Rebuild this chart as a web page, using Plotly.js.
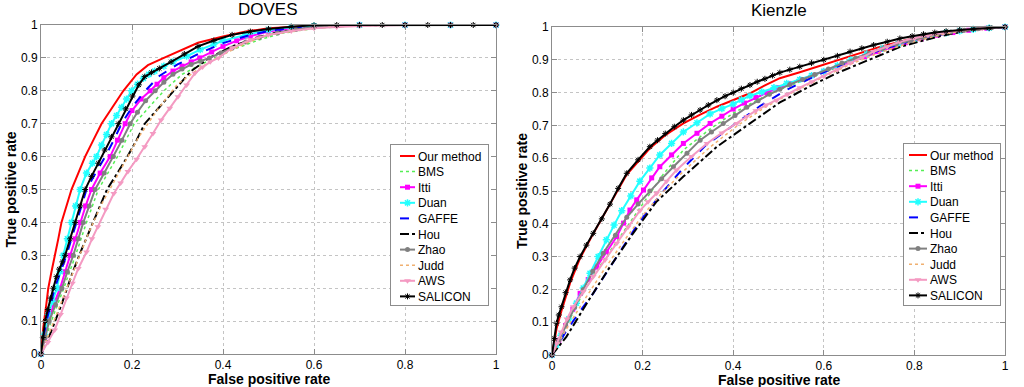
<!DOCTYPE html>
<html>
<head>
<meta charset="utf-8">
<script src="https://cdn.plot.ly/plotly-3.0.1.min.js"></script>
<style>html,body{margin:0;padding:0;background:#fff;}#chart{width:1024px;height:387px;}</style>
</head>
<body>
<div id="chart"></div>
<script>
// ---------- Data ----------
const methodNames = ["Our method","BMS","Itti","Duan","GAFFE","Hou","Zhao","Judd","AWS","SALICON"];
const panelTitles = ["DOVES","Kienzle"];
const xTitle = "False positive rate";
const yTitle = "True positive rate";

// DOVES
const dovesOurX = [0,0.005,0.012,0.016,0.023,0.031,0.038,0.045,0.056,0.067,0.082,0.097,0.115,0.133,0.157,0.181,0.21,0.235,0.27,0.31,0.345,0.4,0.45,0.5,0.6,0.7,0.8,0.9,1];
const dovesOurY = [0,0.08,0.155,0.2,0.25,0.3,0.35,0.4,0.45,0.5,0.55,0.6,0.65,0.7,0.75,0.8,0.85,0.878,0.9,0.925,0.946,0.965,0.98,0.99,0.998,1,1,1,1];
const dovesBmsX = [0,0.02,0.05,0.076,0.1,0.126,0.168,0.205,0.27,0.31,0.38,0.43,0.48,0.53,0.6,0.7,0.8,0.9,1];
const dovesBmsY = [0,0.09,0.2,0.3,0.4,0.5,0.6,0.7,0.8,0.85,0.9,0.93,0.955,0.975,0.99,0.998,1,1,1];
const dovesIttiX = [0,0.008,0.016,0.028,0.042,0.053,0.064,0.075,0.086,0.098,0.111,0.13,0.152,0.168,0.185,0.2,0.22,0.24,0.255,0.27,0.29,0.31,0.33,0.349,0.375,0.4,0.43,0.46,0.5,0.55,0.6,0.7,0.8,0.9,1];
const dovesIttiY = [0,0.05,0.1,0.15,0.2,0.25,0.3,0.35,0.4,0.45,0.5,0.55,0.6,0.65,0.7,0.74,0.775,0.8,0.82,0.84,0.86,0.875,0.888,0.9,0.918,0.935,0.952,0.966,0.98,0.99,0.996,1,1,1,1];
const dovesDuanX = [0,0.008,0.016,0.025,0.035,0.042,0.049,0.058,0.067,0.076,0.086,0.1,0.113,0.122,0.133,0.144,0.155,0.166,0.177,0.188,0.199,0.212,0.225,0.237,0.25,0.27,0.29,0.32,0.35,0.38,0.4,0.45,0.5,0.55,0.6,0.7,0.8,0.9,1];
const dovesDuanY = [0,0.06,0.12,0.16,0.2,0.25,0.3,0.35,0.4,0.45,0.5,0.55,0.58,0.6,0.635,0.667,0.7,0.725,0.75,0.775,0.8,0.82,0.838,0.85,0.86,0.875,0.888,0.905,0.925,0.942,0.952,0.97,0.985,0.993,0.997,1,1,1,1];
const dovesGaffeX = [0,0.012,0.03,0.056,0.078,0.1,0.12,0.141,0.16,0.177,0.2,0.229,0.26,0.3,0.35,0.4,0.45,0.5,0.6,0.7,0.8,0.9,1];
const dovesGaffeY = [0,0.1,0.2,0.3,0.4,0.5,0.55,0.6,0.65,0.7,0.75,0.8,0.845,0.88,0.915,0.945,0.966,0.982,0.996,1,1,1,1];
const dovesHouX = [0,0.02,0.045,0.07,0.09,0.115,0.145,0.168,0.19,0.21,0.228,0.26,0.291,0.33,0.37,0.42,0.47,0.52,0.6,0.7,0.8,0.9,1];
const dovesHouY = [0,0.06,0.15,0.25,0.32,0.4,0.5,0.55,0.6,0.65,0.7,0.75,0.8,0.86,0.9,0.935,0.96,0.978,0.992,0.999,1,1,1];
const dovesZhaoX = [0,0.009,0.018,0.032,0.046,0.058,0.071,0.082,0.093,0.106,0.119,0.139,0.159,0.178,0.196,0.212,0.23,0.251,0.27,0.29,0.31,0.33,0.35,0.37,0.395,0.42,0.45,0.48,0.52,0.56,0.6,0.7,0.8,0.9,1];
const dovesZhaoY = [0,0.05,0.1,0.15,0.2,0.25,0.3,0.35,0.4,0.45,0.5,0.55,0.6,0.65,0.7,0.735,0.77,0.8,0.826,0.85,0.866,0.88,0.89,0.9,0.915,0.93,0.948,0.962,0.976,0.986,0.993,0.999,1,1,1];
const dovesJuddX = [0,0.02,0.05,0.08,0.105,0.135,0.175,0.215,0.26,0.3,0.35,0.4,0.45,0.5,0.6,0.7,0.8,0.9,1];
const dovesJuddY = [0,0.07,0.18,0.28,0.37,0.46,0.56,0.66,0.75,0.82,0.87,0.91,0.945,0.97,0.99,1,1,1,1];
const dovesAwsX = [0,0.015,0.03,0.043,0.056,0.069,0.082,0.1,0.112,0.125,0.142,0.16,0.175,0.191,0.21,0.228,0.246,0.264,0.283,0.301,0.32,0.338,0.355,0.372,0.39,0.42,0.46,0.5,0.55,0.6,0.65,0.7,0.8,0.9,1];
const dovesAwsY = [0,0.035,0.073,0.12,0.17,0.215,0.26,0.31,0.35,0.387,0.44,0.488,0.52,0.555,0.592,0.63,0.67,0.711,0.747,0.782,0.818,0.853,0.872,0.888,0.9,0.93,0.955,0.97,0.982,0.99,0.994,0.997,1,1,1];
const dovesSaliconX = [0,0.004,0.009,0.015,0.021,0.027,0.034,0.04,0.047,0.053,0.064,0.075,0.086,0.097,0.111,0.126,0.14,0.155,0.17,0.186,0.201,0.215,0.228,0.243,0.26,0.286,0.315,0.345,0.38,0.42,0.46,0.5,0.55,0.6,0.65,0.7,0.75,0.8,0.85,0.9,0.95,1];
const dovesSaliconY = [0,0.05,0.1,0.135,0.17,0.2,0.235,0.258,0.28,0.3,0.35,0.4,0.45,0.5,0.54,0.58,0.62,0.66,0.7,0.745,0.784,0.818,0.843,0.856,0.868,0.888,0.912,0.935,0.953,0.97,0.98,0.988,0.995,0.999,1,1,1,1,1,1,1,1];

// Kienzle
const kienOurX = [0,0.01,0.021,0.04,0.062,0.091,0.128,0.165,0.216,0.25,0.29,0.327,0.364,0.4,0.437,0.47,0.503,0.547,0.6,0.66,0.72,0.78,0.84,0.9,1];
const kienOurY = [0,0.08,0.135,0.22,0.295,0.37,0.46,0.55,0.63,0.67,0.706,0.733,0.757,0.778,0.798,0.822,0.844,0.862,0.885,0.912,0.938,0.96,0.976,0.988,1];
const kienBmsX = [0,0.03,0.065,0.1,0.145,0.18,0.21,0.245,0.29,0.35,0.4,0.45,0.5,0.55,0.6,0.66,0.72,0.78,0.85,0.92,1];
const kienBmsY = [0,0.085,0.18,0.26,0.35,0.42,0.48,0.55,0.625,0.69,0.737,0.775,0.808,0.835,0.862,0.893,0.923,0.95,0.974,0.99,1];
const kienIttiX = [0,0.015,0.03,0.046,0.062,0.08,0.099,0.12,0.143,0.158,0.172,0.187,0.202,0.22,0.238,0.264,0.29,0.32,0.349,0.375,0.4,0.425,0.45,0.475,0.5,0.525,0.55,0.575,0.6,0.63,0.66,0.69,0.72,0.75,0.78,0.815,0.85,0.885,0.92,0.96,1];
const kienIttiY = [0,0.045,0.09,0.14,0.188,0.23,0.269,0.315,0.361,0.402,0.442,0.473,0.503,0.54,0.574,0.61,0.645,0.676,0.706,0.728,0.75,0.768,0.785,0.8,0.815,0.828,0.84,0.852,0.865,0.88,0.895,0.91,0.925,0.938,0.952,0.964,0.975,0.983,0.99,0.996,1];
const kienDuanX = [0,0.01,0.02,0.037,0.054,0.069,0.084,0.102,0.12,0.137,0.154,0.174,0.194,0.216,0.238,0.264,0.29,0.32,0.349,0.375,0.4,0.418,0.437,0.463,0.49,0.518,0.547,0.573,0.6,0.63,0.66,0.695,0.73,0.765,0.8,0.835,0.87,0.9,0.93,0.965,1];
const kienDuanY = [0,0.03,0.06,0.11,0.158,0.204,0.249,0.3,0.351,0.396,0.44,0.485,0.53,0.57,0.61,0.645,0.68,0.708,0.735,0.751,0.765,0.778,0.79,0.802,0.815,0.828,0.84,0.852,0.865,0.882,0.9,0.918,0.935,0.949,0.962,0.972,0.982,0.988,0.993,0.997,1];
const kienGaffeX = [0,0.03,0.06,0.091,0.143,0.19,0.24,0.29,0.34,0.4,0.46,0.52,0.58,0.64,0.7,0.76,0.82,0.88,0.94,1];
const kienGaffeY = [0,0.07,0.13,0.188,0.3,0.4,0.49,0.57,0.64,0.7,0.76,0.81,0.85,0.885,0.918,0.945,0.966,0.984,0.995,1];
const kienHouX = [0,0.032,0.077,0.128,0.179,0.231,0.29,0.364,0.437,0.503,0.57,0.63,0.7,0.77,0.85,0.92,1];
const kienHouY = [0,0.056,0.158,0.269,0.371,0.468,0.544,0.635,0.706,0.77,0.82,0.86,0.9,0.94,0.97,0.99,1];
const kienZhaoX = [0,0.015,0.03,0.05,0.069,0.09,0.113,0.14,0.165,0.19,0.216,0.242,0.268,0.298,0.327,0.352,0.378,0.404,0.43,0.455,0.48,0.503,0.525,0.553,0.58,0.61,0.64,0.67,0.7,0.73,0.76,0.79,0.82,0.85,0.88,0.91,0.94,0.97,1];
const kienZhaoY = [0,0.045,0.09,0.145,0.2,0.255,0.31,0.365,0.42,0.46,0.5,0.537,0.574,0.615,0.655,0.68,0.706,0.73,0.755,0.775,0.795,0.81,0.825,0.84,0.855,0.872,0.89,0.905,0.92,0.934,0.948,0.958,0.968,0.977,0.985,0.99,0.995,0.998,1];
const kienJuddX = [0,0.03,0.07,0.11,0.16,0.2,0.24,0.29,0.35,0.41,0.47,0.53,0.6,0.66,0.72,0.79,0.86,0.93,1];
const kienJuddY = [0,0.075,0.165,0.25,0.35,0.425,0.49,0.56,0.635,0.7,0.755,0.8,0.848,0.887,0.92,0.952,0.977,0.993,1];
const kienAwsX = [0,0.01,0.02,0.033,0.047,0.069,0.091,0.117,0.143,0.168,0.194,0.212,0.231,0.253,0.275,0.308,0.342,0.375,0.408,0.43,0.45,0.473,0.496,0.52,0.547,0.573,0.6,0.63,0.658,0.685,0.71,0.74,0.768,0.8,0.83,0.865,0.9,0.95,1];
const kienAwsY = [0,0.035,0.07,0.11,0.147,0.193,0.239,0.29,0.341,0.39,0.44,0.467,0.493,0.53,0.564,0.605,0.645,0.677,0.706,0.727,0.745,0.762,0.777,0.795,0.815,0.833,0.85,0.87,0.89,0.908,0.925,0.94,0.955,0.966,0.975,0.983,0.99,0.996,1];
const kienSaliconX = [0,0.005,0.01,0.015,0.021,0.03,0.04,0.05,0.062,0.076,0.091,0.11,0.128,0.146,0.165,0.19,0.216,0.233,0.25,0.27,0.29,0.308,0.327,0.345,0.364,0.382,0.4,0.418,0.437,0.453,0.47,0.487,0.503,0.525,0.547,0.573,0.6,0.63,0.658,0.684,0.71,0.74,0.768,0.795,0.82,0.845,0.87,0.9,0.93,0.965,1];
const kienSaliconY = [0,0.05,0.097,0.122,0.147,0.19,0.229,0.265,0.3,0.335,0.371,0.415,0.46,0.508,0.554,0.595,0.635,0.655,0.675,0.696,0.716,0.732,0.747,0.762,0.777,0.789,0.8,0.812,0.823,0.833,0.842,0.852,0.861,0.87,0.879,0.89,0.9,0.912,0.925,0.935,0.945,0.955,0.965,0.972,0.978,0.983,0.987,0.991,0.994,0.997,1];

const dovesX = [dovesOurX,dovesBmsX,dovesIttiX,dovesDuanX,dovesGaffeX,dovesHouX,dovesZhaoX,dovesJuddX,dovesAwsX,dovesSaliconX];
const dovesY = [dovesOurY,dovesBmsY,dovesIttiY,dovesDuanY,dovesGaffeY,dovesHouY,dovesZhaoY,dovesJuddY,dovesAwsY,dovesSaliconY];
const kienX = [kienOurX,kienBmsX,kienIttiX,kienDuanX,kienGaffeX,kienHouX,kienZhaoX,kienJuddX,kienAwsX,kienSaliconX];
const kienY = [kienOurY,kienBmsY,kienIttiY,kienDuanY,kienGaffeY,kienHouY,kienZhaoY,kienJuddY,kienAwsY,kienSaliconY];

const xTicks = [0,0.2,0.4,0.6,0.8,1];
const xTickText = ["0","0.2","0.4","0.6","0.8","1"];
const yTicks = [0,0.1,0.2,0.3,0.4,0.5,0.6,0.7,0.8,0.9,1];
const yTickText = ["0","0.1","0.2","0.3","0.4","0.5","0.6","0.7","0.8","0.9","1"];

// ---------- Styles ----------
const FONT = 'Liberation Sans, Arial, sans-serif';
const styles = [
  {line:{color:'#ff0000',width:2,dash:'solid'}, mode:'lines'},
  {line:{color:'#55ee55',width:1.5,dash:'dot'}, mode:'lines'},
  {line:{color:'#ff00ff',width:2,dash:'solid'}, mode:'lines+markers', marker:{symbol:'square',size:5,color:'#ff00ff'}},
  {line:{color:'#22ffff',width:2,dash:'solid'}, mode:'lines+markers', marker:{symbol:'asterisk-open',size:6,color:'#22ffff',line:{width:1.5,color:'#22ffff'}}},
  {line:{color:'#0000ff',width:2,dash:'dash'}, mode:'lines'},
  {line:{color:'#000000',width:2,dash:'dashdot'}, mode:'lines'},
  {line:{color:'#808080',width:2,dash:'solid'}, mode:'lines+markers', marker:{symbol:'circle',size:5,color:'#808080'}},
  {line:{color:'#f0b070',width:1.5,dash:'dot'}, mode:'lines'},
  {line:{color:'#f49ac2',width:2,dash:'solid'}, mode:'lines+markers', marker:{symbol:'triangle-down',size:6,color:'#f49ac2'}},
  {line:{color:'#000000',width:2,dash:'solid'}, mode:'lines+markers', marker:{symbol:'asterisk-open',size:5,color:'#000000',line:{width:1,color:'#000000'}}}
];

const traces = [];
function addPanel(xs, ys, xa, ya, legendId) {
  for (let i = 0; i < methodNames.length; i++) {
    const s = styles[i];
    const t = {
      type:'scatter', x: xs[i], y: ys[i], name: methodNames[i],
      xaxis: xa, yaxis: ya, legend: legendId,
      mode: s.mode, line: s.line, cliponaxis: false
    };
    if (s.marker) t.marker = s.marker;
    traces.push(t);
  }
}
addPanel(dovesX, dovesY, 'x', 'y', 'legend');
addPanel(kienX, kienY, 'x2', 'y2', 'legend2');

const axisFont = {family:FONT, size:12, color:'#000'};
function axisBase(range, tv, tt) {
  return {
    range:range, tickvals:tv, ticktext:tt,
    showline:true, mirror:'ticks', linecolor:'#8c8c8c', linewidth:1,
    ticks:'inside', ticklen:5, tickcolor:'#8c8c8c',
    showgrid:true, gridcolor:'#c4c4c4', griddash:'dot', gridwidth:1, zeroline:false,
    tickfont: axisFont, automargin:false, fixedrange:true
  };
}
function xAxis(domain, anchor) {
  return Object.assign(axisBase([0,1], xTicks, xTickText), {domain:domain, anchor:anchor});
}
function yAxis(domain, anchor) {
  return Object.assign(axisBase([0,1], yTicks, yTickText), {domain:domain, anchor:anchor});
}
const legendBase = {
  bgcolor:'#ffffff', bordercolor:'#8c8c8c', borderwidth:1,
  font:{family:FONT, size:12, color:'#000'},
  xanchor:'left', yanchor:'top', itemwidth:30, tracegroupgap:0, itemclick:false
};

const titleFont = {family:FONT, size:17, color:'#000'};
const labFont = {family:FONT, size:14, color:'#000', weight:'bold'};

const layout = {
  width:1024, height:387,
  margin:{l:0,r:0,t:0,b:0},
  paper_bgcolor:'#ffffff', plot_bgcolor:'#ffffff',
  showlegend:true,
  xaxis: xAxis([41/1024, 496/1024], 'y'),
  yaxis: yAxis([1-354/387, 1-25/387], 'x'),
  xaxis2: xAxis([552/1024, 1005/1024], 'y2'),
  yaxis2: yAxis([1-355/387, 1-27/387], 'x2'),
  legend: Object.assign({}, legendBase, {x:390/1024, y:1-144/387}),
  legend2: Object.assign({}, legendBase, {x:903/1024, y:1-143/387}),
  annotations: [
    {text:panelTitles[0], xref:'paper', yref:'paper', x:268/1024, y:1-9.5/387, xanchor:'center', yanchor:'middle', showarrow:false, font:titleFont},
    {text:panelTitles[1], xref:'paper', yref:'paper', x:779/1024, y:1-10/387, xanchor:'center', yanchor:'middle', showarrow:false, font:titleFont},
    {text:xTitle, xref:'paper', yref:'paper', x:268.5/1024, y:1-378.5/387, xanchor:'center', yanchor:'middle', showarrow:false, borderpad:0, font:labFont},
    {text:xTitle, xref:'paper', yref:'paper', x:778.5/1024, y:1-379.5/387, xanchor:'center', yanchor:'middle', showarrow:false, borderpad:0, font:labFont},
    {text:yTitle, xref:'paper', yref:'paper', x:10/1024, y:1-189.5/387, xanchor:'center', yanchor:'middle', textangle:-90, showarrow:false, font:labFont},
    {text:yTitle, xref:'paper', yref:'paper', x:522/1024, y:1-191/387, xanchor:'center', yanchor:'middle', textangle:-90, showarrow:false, font:labFont}
  ]
};

function parseT(tr) {
  const m = /translate\(\s*([-\d.e]+)(?:[\s,]+([-\d.e]+))?\s*\)/.exec(tr || '');
  return m ? {x: parseFloat(m[1]), y: m[2] ? parseFloat(m[2]) : 0} : {x:0, y:0};
}
// Compact legend rows to match the reference spacing (idempotent)
function tweakLegend(lg, top, step, padBottom, textX, lineStart, lineLen) {
  try {
    const items = Array.from(lg.querySelectorAll('g.traces'));
    let maxW = 0;
    items.forEach((it, i) => {
      const grp = it.parentNode;
      const gy = parseT(grp.getAttribute('transform')).y;
      const t = parseT(it.getAttribute('transform'));
      it.setAttribute('transform', 'translate(' + t.x + ',' + (top + i*step - gy) + ')');
      it.querySelectorAll('text').forEach(tx => {
        tx.removeAttribute('transform');
        tx.setAttribute('x', textX);
        tx.querySelectorAll('tspan').forEach(ts => { if (ts.hasAttribute('x')) ts.setAttribute('x', textX); });
        let w = 0;
        try { w = tx.getComputedTextLength(); } catch(e) {}
        if (!w) w = (tx.textContent || '').length * 6.5;
        maxW = Math.max(maxW, w);
      });
      it.querySelectorAll('g.legendlines path').forEach(p => p.setAttribute('d', 'M' + lineStart + ',0h' + lineLen));
      it.querySelectorAll('g.legendpoints path').forEach(p => p.setAttribute('transform', 'translate(' + (lineStart + lineLen/2) + ',0)'));
      it.querySelectorAll('rect.legendtoggle').forEach(r => r.setAttribute('height', step));
    });
    const bg = lg.querySelector('rect.bg');
    if (bg) {
      bg.setAttribute('height', top + (items.length-1)*step + padBottom);
      if (maxW > 0) bg.setAttribute('width', textX + maxW + 8);
    }
  } catch (e) {}
}
function tweakAll() {
  const lgs = Array.from(document.querySelectorAll('g')).filter(g => {
    const c = (g.getAttribute('class') || '').trim();
    return /^legend\d*$/.test(c);
  });
  lgs.forEach(lg => {
    const cls = lg.getAttribute('class').trim();
    if (cls === 'legend') tweakLegend(lg, 12, 15.6, 8.6, 27, 9, 15);
    else tweakLegend(lg, 12, 15.6, 9.6, 26, 5, 18);
  });
}

Plotly.newPlot('chart', traces, layout, {staticPlot:true, displayModeBar:false}).then(() => {
  tweakAll();
  setTimeout(tweakAll, 50);
  setTimeout(tweakAll, 300);
  requestAnimationFrame(tweakAll);
});
</script>
</body>
</html>
